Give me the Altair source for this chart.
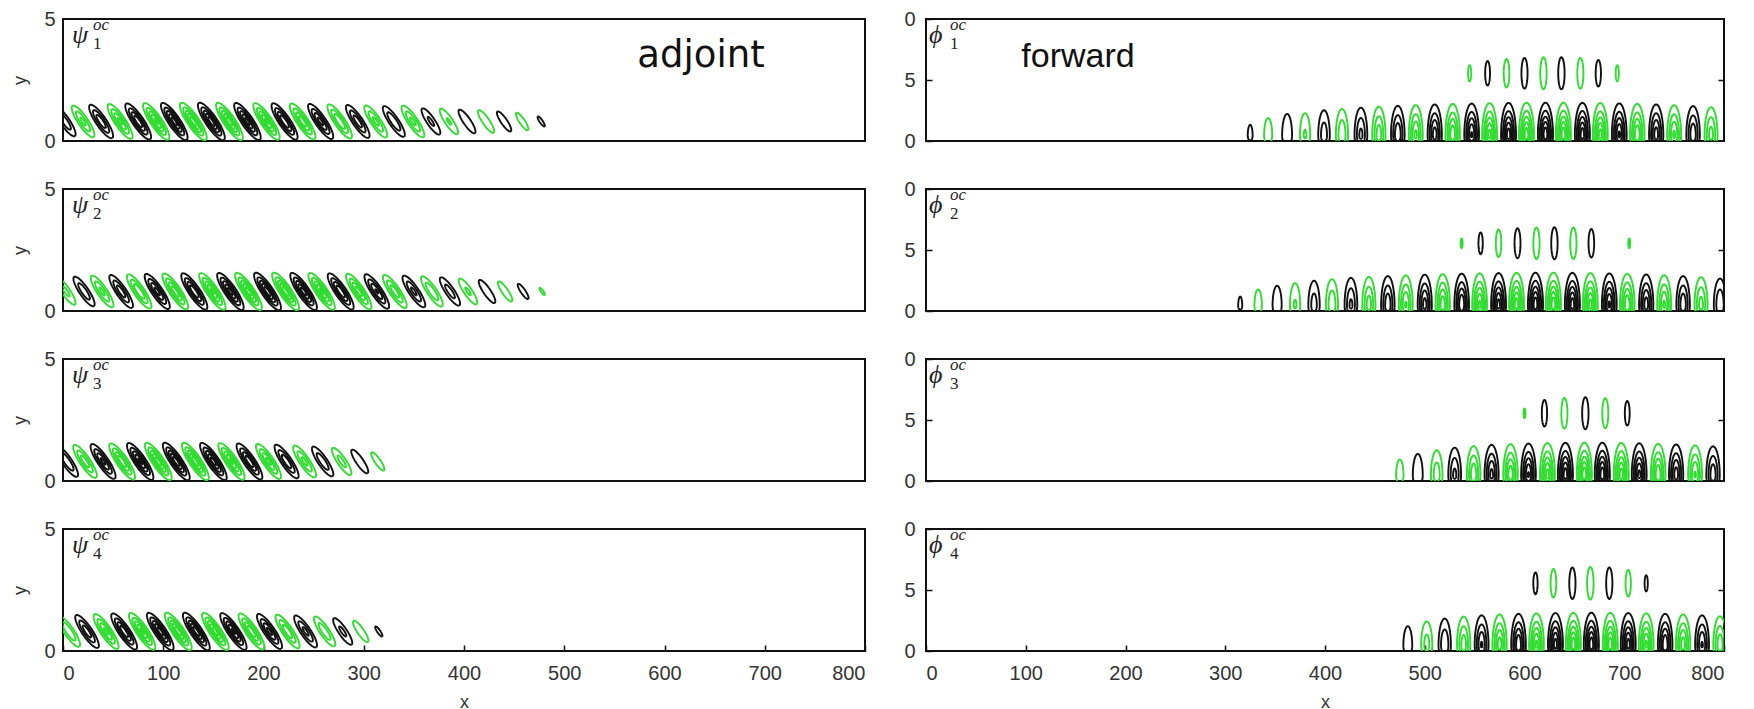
import numpy as np
import pandas as pd
import altair as alt

alt.data_transformers.disable_max_rows()

# ---------------------------------------------------------------------------
# Lobe data.  Each mode is a chain of lobes of alternating sign; every lobe is
# given by its centre x and its peak amplitude (relative to the strongest lobe).
# "k" = negative lobe (black contours), "g" = positive lobe (green contours).
# ---------------------------------------------------------------------------

# adjoint modes psi_1 .. psi_4 (lobes tilted against the flow, next to the wall)
PSI_X = {
    1: [2, 20, 38, 57, 75, 93, 111, 130, 148, 166, 184, 203, 221, 239,
        257, 276, 294, 312, 330, 349, 367, 385, 403, 422, 440, 458, 477],
    2: [3, 21, 39, 58, 76, 94, 112, 131, 149, 167, 185, 204, 222, 240,
        258, 277, 295, 313, 331, 350, 368, 386, 404, 423, 441, 459, 478],
    3: [4, 22, 40, 59, 77, 95, 113, 132, 150, 168, 186, 205, 223, 241,
        259, 278, 296, 314],
    4: [6, 24, 43, 61, 79, 97, 115, 133, 152, 170, 188, 206, 224, 242,
        261, 279, 297, 315],
}
PSI_AMP = {
    1: [0.45, 0.55, 0.65, 0.75, 0.85, 0.92, 0.97, 1.0, 1.0, 0.98, 0.95,
        0.92, 0.88, 0.83, 0.77, 0.7, 0.62, 0.56, 0.5, 0.55, 0.34, 0.32,
        0.28, 0.26, 0.22, 0.19, 0.14],
    2: [0.35, 0.45, 0.55, 0.62, 0.7, 0.77, 0.83, 0.88, 0.92, 0.95, 0.98,
        1.0, 1.0, 0.97, 0.93, 0.87, 0.8, 0.72, 0.63, 0.55, 0.48, 0.4,
        0.33, 0.27, 0.22, 0.17, 0.13],
    3: [0.5, 0.62, 0.75, 0.85, 0.93, 0.98, 1.0, 1.0, 0.97, 0.92, 0.85,
        0.76, 0.66, 0.56, 0.46, 0.37, 0.28, 0.2],
    4: [0.5, 0.62, 0.75, 0.85, 0.93, 0.98, 1.0, 1.0, 0.97, 0.92, 0.85,
        0.76, 0.66, 0.56, 0.46, 0.35, 0.24, 0.14],
}
PSI_FIRST = {1: "k", 2: "g", 3: "k", 4: "g"}

# forward modes phi_1 .. phi_4: wall row (lower) and detached row (upper)
PHI_LOW_X = {
    1: [325, 343, 362, 380, 399, 417, 436, 454, 473, 491, 510, 528, 547,
        565, 584, 602, 621, 639, 658, 676, 695, 713, 732, 750, 769, 787],
    2: [315, 333, 352, 370, 389, 407, 426, 444, 463, 481, 500, 518, 537,
        555, 574, 592, 611, 629, 648, 666, 685, 703, 722, 740, 759, 777, 796],
    3: [475, 493, 512, 530, 549, 567, 586, 604, 623, 641, 660, 678, 697,
        715, 734, 752, 771, 789],
    4: [465, 483, 502, 520, 539, 557, 575, 594, 612, 631, 649, 667, 686,
        704, 722, 741, 759, 778, 796],
}
PHI_LOW_AMP = {
    1: [0.15, 0.22, 0.3, 0.32, 0.42, 0.48, 0.55, 0.62, 0.68, 0.74, 0.8,
        0.85, 0.9, 0.94, 0.97, 0.99, 1.0, 1.0, 0.98, 0.95, 0.91, 0.86,
        0.8, 0.73, 0.66, 0.58],
    2: [0.14, 0.2, 0.26, 0.32, 0.4, 0.47, 0.54, 0.6, 0.66, 0.72, 0.78,
        0.83, 0.88, 0.92, 0.95, 0.98, 1.0, 1.0, 0.98, 0.95, 0.91, 0.86,
        0.8, 0.73, 0.66, 0.58, 0.5],
    3: [0.2, 0.3, 0.42, 0.55, 0.66, 0.76, 0.84, 0.9, 0.95, 0.98, 1.0,
        1.0, 0.97, 0.93, 0.87, 0.8, 0.72, 0.64],
    4: [0.1, 0.25, 0.38, 0.5, 0.62, 0.72, 0.8, 0.87, 0.92, 0.96, 0.99,
        1.0, 0.99, 0.96, 0.92, 0.87, 0.8, 0.72, 0.64],
}
PHI_LOW_FIRST = {1: "k", 2: "k", 3: "g", 4: "g"}

PHI_UP_X = {
    1: [545, 563, 582, 600, 619, 637, 656, 674, 693],
    2: [537, 556, 574, 593, 612, 630, 649, 667, 705],
    3: [600, 620, 640, 661, 681, 703],
    4: [611, 629, 648, 666, 685, 704, 722],
}
PHI_UP_AMP = {
    1: [0.15, 0.2, 0.24, 0.27, 0.29, 0.29, 0.27, 0.22, 0.15],
    2: [0.13, 0.18, 0.23, 0.26, 0.28, 0.29, 0.28, 0.24, 0.13],
    3: [0.13, 0.22, 0.27, 0.29, 0.26, 0.2],
    4: [0.18, 0.24, 0.28, 0.3, 0.28, 0.22, 0.15],
}
PHI_UP_FIRST = {1: "g", 2: "g", 3: "g", 4: "k"}

# contour levels of |amplitude|
LEVELS = [0.12, 0.3, 0.5, 0.7, 0.88]
T = np.linspace(0.0, 2.0 * np.pi, 49)


def radii(amp):
    """Gaussian-lobe radii of the contours that a lobe of this amplitude crosses."""
    return [np.sqrt(np.log(amp / lev)) for lev in LEVELS if amp > lev]


def signs(first, n):
    other = "g" if first == "k" else "k"
    return [first if i % 2 == 0 else other for i in range(n)]


def tilted_lobes(xs, amps, first, frames, tag):
    # major / minor half-axes (x, y) per unit radius, centred 0.8 above the wall
    ux, uy, vx, vy, yc = 8.6, -0.52, 3.3, 0.092, 0.8
    for j, (x0, a, s) in enumerate(zip(xs, amps, signs(first, len(xs)))):
        for k, r in enumerate(radii(a)):
            frames.append(pd.DataFrame({
                "x": np.round(x0 + r * (ux * np.cos(T) + vx * np.sin(T)), 2),
                "y": np.round(yc + r * (uy * np.cos(T) + vy * np.sin(T)), 3),
                "s": s, "cid": f"{tag}{j}_{k}", "i": np.arange(T.size)}))


def wall_lobes(xs, amps, first, frames, tag):
    # lobes peaking just above the wall, stretched upward, cut by the wall
    yp, sx, s_up, s_dn = 0.45, 5.2, 1.85, 0.9
    for j, (x0, a, s) in enumerate(zip(xs, amps, signs(first, len(xs)))):
        for k, r in enumerate(radii(a)):
            sy = np.where(np.sin(T) > 0, s_up, s_dn)
            frames.append(pd.DataFrame({
                "x": np.round(x0 + r * sx * np.cos(T), 2),
                "y": np.round(yp + r * sy * np.sin(T), 3),
                "s": s, "cid": f"{tag}{j}_{k}", "i": np.arange(T.size)}))


def lifted_lobes(xs, amps, first, frames, tag):
    yc, sx, sy = 5.55, 3.4, 1.4
    for j, (x0, a, s) in enumerate(zip(xs, amps, signs(first, len(xs)))):
        for k, r in enumerate(radii(a)):
            frames.append(pd.DataFrame({
                "x": np.round(x0 + r * sx * np.cos(T), 2),
                "y": np.round(yc + r * sy * np.sin(T), 3),
                "s": s, "cid": f"{tag}{j}_{k}", "i": np.arange(T.size)}))


LABEL_FONT = "Liberation Sans"
LABEL_COLOR = "#333333"
SERIF = "Liberation Serif, DejaVu Serif"
COLOR = alt.Scale(domain=["k", "g"], range=["#111111", "#2fdd2f"])
X_TICKS = list(range(0, 801, 100))
W_LEFT, W_RIGHT, H = 802, 798, 122


def mode_label(symbol, n, dx):
    base = alt.Chart(pd.DataFrame({"t": [0]}))
    main = base.mark_text(text=symbol, font=SERIF, fontStyle="italic",
                          fontSize=26, align="left", baseline="alphabetic",
                          color="#222222").encode(x=alt.value(dx), y=alt.value(24))
    sub = base.mark_text(text=str(n), font=SERIF, fontSize=17,
                         align="left", baseline="alphabetic",
                         color="#222222").encode(x=alt.value(dx + 21), y=alt.value(30))
    sup = base.mark_text(text="oc", font=SERIF, fontStyle="italic",
                         fontSize=17, align="left", baseline="alphabetic",
                         color="#222222").encode(x=alt.value(dx + 21), y=alt.value(11))
    return [main, sub, sup]


def panel(frames, side, n, word=None):
    df = pd.concat(frames, ignore_index=True)
    bottom = n == 4
    left = side == "left"
    if bottom:
        xaxis = alt.Axis(values=X_TICKS, title="x", offset=-6, tickSize=6,
                         tickColor="#111111", tickWidth=1.5, labelPadding=12,
                         domain=False, grid=False, titlePadding=10)
    else:
        xaxis = None
    if left:
        ydom = [0, 5]
        yaxis = alt.Axis(values=[0, 5], title="y", ticks=False, domain=False,
                         grid=False, labelPadding=8, titlePadding=14)
    else:
        ydom = [0, 10]
        yaxis = alt.Axis(values=[0, 5, 10], title=None, offset=-6, tickSize=6,
                         tickColor="#111111", tickWidth=1.5, domain=False,
                         grid=False, labelPadding=11,
                         labelExpr="datum.value == 10 ? '0' : datum.label")
    lines = alt.Chart(df).mark_line(strokeWidth=1.9, clip=True).encode(
        x=alt.X("x:Q", scale=alt.Scale(domain=[0, 800], nice=False, zero=False),
                axis=xaxis),
        y=alt.Y("y:Q", scale=alt.Scale(domain=ydom, nice=False), axis=yaxis),
        color=alt.Color("s:N", scale=COLOR, legend=None),
        detail="cid:N",
        order="i:Q",
    )
    layers = [lines]
    if not left:
        # mirrored inward tick at y = 5 on the right edge
        rt = alt.Chart(pd.DataFrame({"y": [5]})).mark_point(opacity=0).encode(
            x=alt.value(0),
            y=alt.Y("y:Q", scale=alt.Scale(domain=ydom, nice=False),
                    axis=alt.Axis(orient="right", values=[5], labels=False,
                                  title=None, offset=-6, tickSize=6,
                                  tickColor="#111111", tickWidth=1.5,
                                  domain=False, grid=False)))
        layers.append(rt)
    layers += mode_label("ψ" if left else "ϕ", n, 9 if left else 3)
    if word is not None:
        txt, cx, font, size = word
        layers.append(alt.Chart(pd.DataFrame({"t": [0]})).mark_text(
            text=txt, font=font, fontSize=size, align="center",
            baseline="alphabetic", color="#111111").encode(
            x=alt.value(cx), y=alt.value(48)))
    ch = alt.layer(*layers).properties(width=W_LEFT if left else W_RIGHT, height=H)
    if not left:
        ch = ch.resolve_axis(y="independent")
    return ch


cells = []
for n in range(1, 5):
    fr = []
    tilted_lobes(PSI_X[n], PSI_AMP[n], PSI_FIRST[n], fr, f"a{n}_")
    cells.append(panel(fr, "left", n,
                       ("adjoint", 638, "DejaVu Sans", 37) if n == 1 else None))
    fr = []
    wall_lobes(PHI_LOW_X[n], PHI_LOW_AMP[n], PHI_LOW_FIRST[n], fr, f"w{n}_")
    lifted_lobes(PHI_UP_X[n], PHI_UP_AMP[n], PHI_UP_FIRST[n], fr, f"u{n}_")
    cells.append(panel(fr, "right", n,
                       ("forward", 152, "Liberation Sans", 34) if n == 1 else None))

chart = alt.concat(
    *cells, columns=2, spacing={"row": 48, "column": 61}, bounds="flush",
).properties(
    padding={"left": 10, "top": 8, "right": 5, "bottom": 5},
    background="white",
).configure_view(
    stroke="#111111", strokeWidth=2,
).configure_axis(
    labelFont=LABEL_FONT, labelFontSize=20, labelColor=LABEL_COLOR,
    titleFont=LABEL_FONT, titleFontSize=18, titleColor=LABEL_COLOR,
    titleFontWeight="normal",
)

chart.save("out.html", embed_options={"renderer": "svg", "actions": False})
